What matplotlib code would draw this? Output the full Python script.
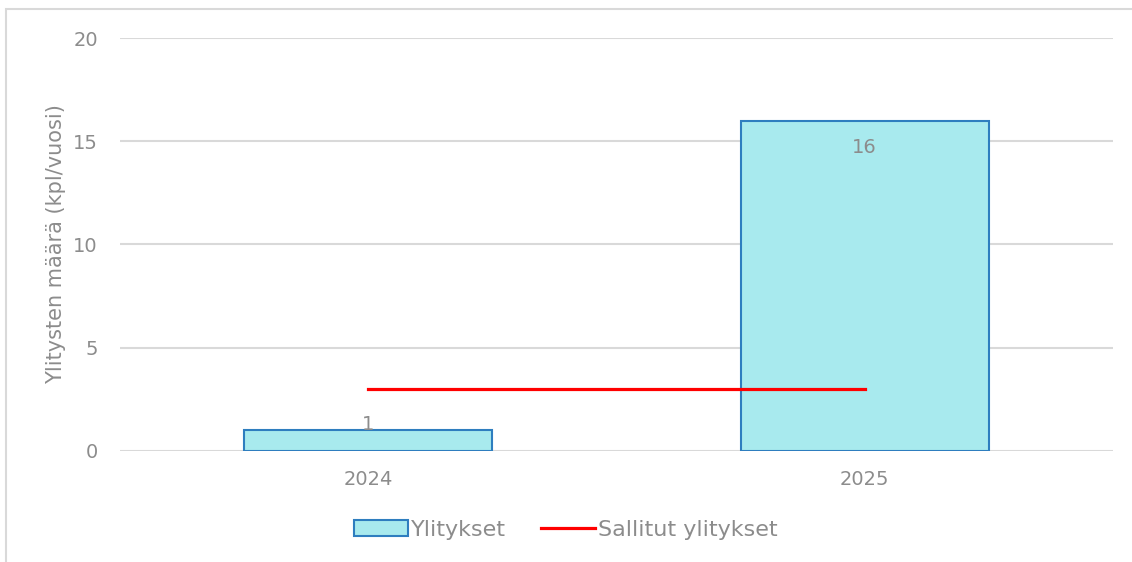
import matplotlib
matplotlib.use("Agg")
import matplotlib.pyplot as plt
from matplotlib.patches import Rectangle

# 数据
years = ["2024", "2025"]
ylitykset = [1, 16]
sallitut = [3, 3]
yticks = [0, 5, 10, 15, 20]

grey = "#8c8c8c"
fs = 14
plt.rcParams['font.family'] = ['DejaVu Sans']

fig = plt.figure(figsize=(11.32, 5.62), dpi=100)
ax = fig.add_axes([120 / 1132, 1 - 451 / 562, (1113 - 120) / 1132, (451 - 38) / 562])

# 外框
fig.patches.append(Rectangle((6 / 1132, -0.05), 1.1, 1 - 9 / 562 + 0.05,
                             transform=fig.transFigure, fill=False,
                             edgecolor="#d9d9d9", linewidth=1.5, zorder=0))

x = list(range(len(years)))
bars = ax.bar(x, ylitykset, width=0.5, color="#a8eaee", edgecolor="#2e7ebf",
              linewidth=1.5, label="Ylitykset", zorder=2)
line, = ax.plot(x, sallitut, color="#ff0000", linewidth=2.3, label="Sallitut ylitykset", zorder=3)

# 数据标签
offsets = [6, -27]
for xi, v, off in zip(x, ylitykset, offsets):
    ax.annotate(str(v), (xi, v), xytext=(0, off), textcoords="offset pixels",
                ha="center", va="center", fontsize=fs, color=grey, zorder=4)

ax.set_xlim(-0.5, 1.5)
ax.set_ylim(0, 20)
ax.set_yticks(yticks)
ax.set_xticks(x)
ax.set_xticklabels(years)
ax.tick_params(axis="both", length=0, labelsize=fs, labelcolor=grey)
ax.tick_params(axis="y", pad=16)
ax.tick_params(axis="x", pad=14)
ax.grid(axis="y", color="#d9d9d9", linewidth=1.5, zorder=0)
ax.set_axisbelow(True)
for s in ax.spines.values():
    s.set_visible(False)
ax.set_ylabel("Ylitysten määrä (kpl/vuosi)", fontsize=15, color=grey, labelpad=5)

fig.legend([bars, line], ["Ylitykset", "Sallitut ylitykset"],
           loc="center", bbox_to_anchor=(0.5, 1 - 530 / 562), ncol=2, frameon=False,
           fontsize=16, labelcolor=grey, handlelength=2.4, handletextpad=0.15,
           columnspacing=1.6)

fig.savefig("out.png", dpi=100)
